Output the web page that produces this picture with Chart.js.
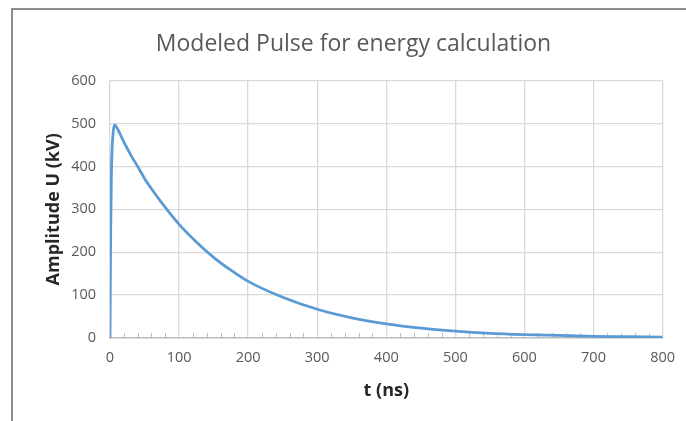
<!DOCTYPE html>
<html lang="en">
<head>
    <meta charset="UTF-8">
    <title>Modeled Pulse for energy calculation</title>
    <script src="https://cdn.jsdelivr.net/npm/chart.js"></script>
    <style>
        html, body { margin: 0; padding: 0; background: #fff; }
        #frame { position: absolute; left: 11px; top: 8px; width: 720px; height: 440px;
                 border-left: 2px solid #8c8c8c; border-top: 2px solid #8c8c8c; }
        #wrap { position: absolute; left: 0; top: 0; width: 686px; height: 421px; }
    </style>
</head>
<body>
    <div id="frame"></div>
    <div id="wrap"><canvas id="myChart"></canvas></div>

    <script>
        // values
        const timeNs = [0, 1, 2, 3, 5, 7, 10, 20, 30, 40, 50, 60, 75, 100, 125, 150, 175, 200,
                        250, 300, 350, 400, 450, 500, 550, 600, 650, 700, 750, 800];
        const amplitudeKV = [0, 250, 380, 440, 485, 497, 490, 457, 427, 400, 372, 348, 315, 265,
                             224, 188, 158, 132, 95, 67, 47, 33, 23, 16, 11, 8, 6, 4, 3, 2];
        const xTicks = [0, 100, 200, 300, 400, 500, 600, 700, 800];
        const yTicks = [0, 100, 200, 300, 400, 500, 600];

        const points = timeNs.map((t, i) => ({ x: t, y: amplitudeKV[i] }));

        // little minor ticks on the x axis, every 20 ns
        const minorTicks = {
            id: 'minorTicks',
            beforeDatasetsDraw(chart) {
                const x = chart.scales.x, y = chart.scales.y;
                const ctx = chart.ctx;
                const base = y.getPixelForValue(0);
                ctx.save();
                ctx.strokeStyle = '#bfbfbf';
                ctx.lineWidth = 1;
                for (let v = 20; v < 800; v += 20) {
                    if (v % 100 === 0) continue;
                    const px = Math.round(x.getPixelForValue(v)) + 0.5;
                    ctx.beginPath();
                    ctx.moveTo(px, base);
                    ctx.lineTo(px, base - 5);
                    ctx.stroke();
                }
                ctx.restore();
            }
        };

        const ctx = document.getElementById('myChart').getContext('2d');
        new Chart(ctx, {
            type: 'line',
            data: {
                datasets: [{
                    data: points,
                    borderColor: '#5b9bd5',
                    borderWidth: 2.8,
                    pointRadius: 0,
                    cubicInterpolationMode: 'monotone',
                    fill: false
                }]
            },
            options: {
                responsive: true,
                maintainAspectRatio: false,
                animation: false,
                layout: { padding: { left: 39, right: 18, top: 19, bottom: 15 } },
                plugins: {
                    legend: { display: false },
                    tooltip: { enabled: false },
                    title: {
                        display: true,
                        text: 'Modeled Pulse for energy calculation',
                        color: '#595959',
                        font: { family: 'Open Sans', size: 23, weight: 'normal' },
                        padding: { top: 12, bottom: 22 }
                    }
                },
                scales: {
                    x: {
                        type: 'linear',
                        min: 0,
                        max: 800,
                        afterBuildTicks: s => { s.ticks = xTicks.map(v => ({ value: v })); },
                        afterFit: s => { s.height = 68; },
                        grid: { color: '#d9d9d9', lineWidth: 1.3, tickLength: 0 },
                        border: { color: '#bfbfbf', width: 1.5 },
                        ticks: { color: '#595959', padding: 11, font: { family: 'Open Sans', size: 14.5 } },
                        title: {
                            display: true,
                            text: 't (ns)',
                            color: '#262626',
                            font: { family: 'Open Sans', size: 18, weight: 'bold' },
                            padding: { top: 4, bottom: 4 }
                        }
                    },
                    y: {
                        min: 0,
                        max: 600,
                        afterBuildTicks: s => { s.ticks = yTicks.map(v => ({ value: v })); },
                        afterFit: s => { s.width = 71; },
                        grid: { color: '#d9d9d9', lineWidth: 1.3, tickLength: 0 },
                        border: { display: false },
                        ticks: { color: '#595959', padding: 14, font: { family: 'Open Sans', size: 14.5 } },
                        title: {
                            display: true,
                            text: 'Amplitude U (kV)',
                            color: '#262626',
                            font: { family: 'Open Sans', size: 18, weight: 'bold' },
                            padding: { top: 4, bottom: 4 }
                        }
                    }
                }
            },
            plugins: [minorTicks]
        });
    </script>
</body>
</html>
